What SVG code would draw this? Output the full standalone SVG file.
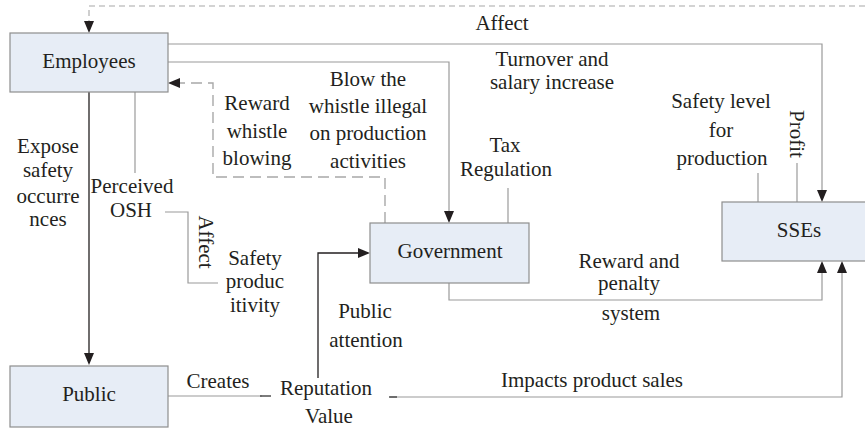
<svg xmlns="http://www.w3.org/2000/svg" width="865" height="428" viewBox="0 0 865 428">
<style>
.box{fill:#e7edf6;stroke:#8e8e8e;stroke-width:1.2}
.g{fill:none;stroke:#9a9a9a;stroke-width:1.2}
.k{fill:none;stroke:#231f20;stroke-width:1.3}
.d1{fill:none;stroke:#a8a8a8;stroke-width:1.1;stroke-dasharray:6 4}
.d2{fill:none;stroke:#a8a8a8;stroke-width:1.4;stroke-dasharray:11 6}
.m{fill:none;stroke:#444;stroke-width:1.4}
</style>
<defs>
<path id="ah" d="M0,0 L-12,-5 L-12,5 z" fill="#231f20"/>
</defs>
<g id="connectors">
<path class="d1" d="M865,6 H89 V31"/>
<path class="g" d="M168,44 H822 V200"/>
<path class="g" d="M168,62 H449 V221"/>
<path class="d2" d="M385,223 V177 H213 V83 H170"/>
<path class="k" d="M89,92 V363"/>
<path class="g" d="M135,92 V173"/>
<path class="g" d="M165,212 H188 V283 H218"/>
<path class="k" d="M318,378 V253 H368"/>
<path class="g" d="M168,396 H262"/>
<path class="m" d="M260,396 H271"/>
<path class="g" d="M390,397 H842 V263"/>
<path class="m" d="M389,397 H397"/>
<path class="g" d="M449,283 V300 H822 V263"/>
<path class="g" d="M508,188 V223"/>
<path class="g" d="M758,173 V202"/>
<path class="g" d="M797,163 V202"/>
<use href="#ah" transform="translate(89,33) rotate(90)"/>
<use href="#ah" transform="translate(822,202) rotate(90)"/>
<use href="#ah" transform="translate(449,223) rotate(90)"/>
<use href="#ah" transform="translate(168,83) rotate(180)"/>
<use href="#ah" transform="translate(89,365) rotate(90)"/>
<use href="#ah" transform="translate(370,253)"/>
<use href="#ah" transform="translate(842,261) rotate(-90)"/>
<use href="#ah" transform="translate(822,261) rotate(-90)"/>
</g>
<g fill="#231f20" text-anchor="middle" font-size="21" font-family="Liberation Serif, serif">
<g id="employees"><rect class="box" x="10" y="33" width="158" height="59"/><text font-family="Liberation Serif" x="89" y="68">Employees</text></g>
<g id="government"><rect class="box" x="370" y="223" width="159" height="60"/><text font-family="Liberation Serif" x="450" y="258">Government</text></g>
<g id="sses"><rect class="box" x="722" y="202" width="156" height="59"/><text font-family="Liberation Serif" x="799" y="237">SSEs</text></g>
<g id="public"><rect class="box" x="10" y="366" width="158" height="61"/><text font-family="Liberation Serif" x="89" y="401">Public</text></g>
<g id="labels">
<text font-family="Liberation Serif" x="502" y="30">Affect</text>
<text font-family="Liberation Serif" x="552" y="66">Turnover and</text>
<text font-family="Liberation Serif" x="552" y="89">salary increase</text>
<text font-family="Liberation Serif" x="368" y="86">Blow the</text>
<text font-family="Liberation Serif" x="368" y="113">whistle illegal</text>
<text font-family="Liberation Serif" x="368" y="140">on production</text>
<text font-family="Liberation Serif" x="368" y="168">activities</text>
<text font-family="Liberation Serif" x="257" y="110">Reward</text>
<text font-family="Liberation Serif" x="257" y="138">whistle</text>
<text font-family="Liberation Serif" x="257" y="165">blowing</text>
<text font-family="Liberation Serif" x="48" y="153">Expose</text>
<text font-family="Liberation Serif" x="48" y="177">safety</text>
<text font-family="Liberation Serif" x="48" y="203">occurre</text>
<text font-family="Liberation Serif" x="48" y="226">nces</text>
<text font-family="Liberation Serif" x="132" y="193">Perceived</text>
<text font-family="Liberation Serif" x="131" y="217">OSH</text>
<text font-family="Liberation Serif" transform="translate(199,242) rotate(90)">Affect</text>
<text font-family="Liberation Serif" x="255" y="265">Safety</text>
<text font-family="Liberation Serif" x="255" y="288">produc</text>
<text font-family="Liberation Serif" x="255" y="312">itivity</text>
<text font-family="Liberation Serif" x="505" y="152">Tax</text>
<text font-family="Liberation Serif" x="506" y="176">Regulation</text>
<text font-family="Liberation Serif" x="721" y="108">Safety level</text>
<text font-family="Liberation Serif" x="721" y="137">for</text>
<text font-family="Liberation Serif" x="722" y="165">production</text>
<text font-family="Liberation Serif" transform="translate(790,134) rotate(90)">Profit</text>
<text font-family="Liberation Serif" x="629" y="268">Reward and</text>
<text font-family="Liberation Serif" x="629" y="290">penalty</text>
<text font-family="Liberation Serif" x="631" y="320">system</text>
<text font-family="Liberation Serif" x="365" y="318">Public</text>
<text font-family="Liberation Serif" x="366" y="347">attention</text>
<text font-family="Liberation Serif" x="218" y="388">Creates</text>
<text font-family="Liberation Serif" x="326" y="395">Reputation</text>
<text font-family="Liberation Serif" x="329" y="423">Value</text>
<text font-family="Liberation Serif" x="592" y="387">Impacts product sales</text>
</g>
</g>
</svg>
